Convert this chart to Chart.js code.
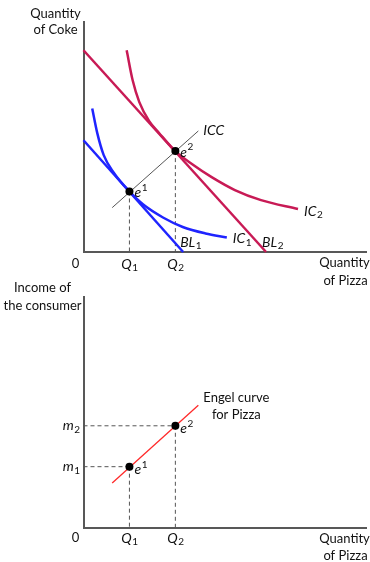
<!DOCTYPE html>
<html>
<head>
<meta charset="utf-8">
<script src="https://cdn.jsdelivr.net/npm/chart.js@4.4.0/dist/chart.umd.min.js"></script>
<style>
  body { margin: 0; background: #fff; }
  #wrap { position: relative; width: 370px; height: 562px; overflow: hidden; }
  canvas { position: absolute; left: 0; }
  #topChart { top: 0; }
  #bottomChart { top: 270px; }
</style>
</head>
<body>
<div id="wrap">
  <canvas id="topChart" width="370" height="300"></canvas>
  <canvas id="bottomChart" width="370" height="292"></canvas>
</div>
<script>
// equilibria e1, e2
const eqPizza = [2, 4];
const eqCoke = [3, 5];
const eqIncome = [3, 5];
const qLabels = ['1', '2'];
const mLabels = ['1', '2'];

// budget lines
const bl1Pizza = [0, 4.34];
const bl1Coke = [5.54, 0];
const bl2Pizza = [0, 7.95];
const bl2Coke = [10.0, 0];

// indifference curves
const ic1Pizza = [0.38, 0.60, 0.88, 1.31, 2.0, 2.60, 3.46, 4.32, 5.31, 6.24];
const ic1Coke = [7.11, 5.89, 4.80, 3.94, 3.0, 2.35, 1.71, 1.24, 0.92, 0.72];
const ic2Pizza = [1.88, 2.14, 2.43, 2.86, 3.29, 4.0, 4.72, 5.58, 6.59, 7.73, 9.34];
const ic2Coke = [10.0, 8.51, 7.43, 6.49, 5.90, 5.0, 4.36, 3.71, 3.07, 2.57, 2.13];

// income consumption curve and Engel curve
const iccPizza = [1.25, 5.0];
const iccCoke = [2.2, 6.0];
const engelPizza = [1.25, 5.0];
const engelIncome = [2.2, 6.0];

const BLUE = '#1f24ff';
const CRIMSON = '#c81a55';
const AXIS = '#585858';
const TXT = '#111';

function pts(xs, ys) {
  return xs.map((x, i) => ({ x: x, y: ys[i] }));
}

function lineSet(data, color, width, extra) {
  return Object.assign({
    type: 'scatter', data: data, showLine: true, borderColor: color, borderWidth: width,
    pointRadius: 0, fill: false, clip: false
  }, extra || {});
}

function mathLabel(ctx, x, y, base, idx, sup, align) {
  ctx.font = 'italic 14px Lato';
  const w1 = ctx.measureText(base).width;
  ctx.font = '10px Lato';
  const w2 = ctx.measureText(idx).width;
  let x0 = x;
  if (align === 'center') x0 = x - (w1 + w2) / 2;
  if (align === 'right') x0 = x - w1 - w2;
  ctx.fillStyle = TXT;
  ctx.textAlign = 'left';
  ctx.textBaseline = 'middle';
  ctx.font = 'italic 14px Lato';
  ctx.fillText(base, x0, y);
  ctx.font = '10px Lato';
  ctx.fillText(idx, x0 + w1 + 0.5, y + (sup ? -5 : 4));
}

function plainText(ctx, txt, x, y, align) {
  ctx.font = '13px Lato';
  ctx.fillStyle = TXT;
  ctx.textAlign = align;
  ctx.textBaseline = 'middle';
  ctx.fillText(txt, x, y);
}

function axisOpts(max) {
  return {
    type: 'linear', min: 0, max: max,
    grid: { display: false, drawTicks: false },
    ticks: { display: false },
    border: { display: true, color: AXIS, width: 2 }
  };
}

const dashed = { borderDash: [4, 3] };

// ---------- top: indifference map ----------
const topDatasets = [
  { type: 'scatter', data: pts(eqPizza, eqCoke), pointRadius: 4, pointBackgroundColor: '#000', pointBorderWidth: 0, clip: false },
  lineSet(pts(ic1Pizza, ic1Coke), BLUE, 2.5, { cubicInterpolationMode: 'monotone' }),
  lineSet(pts(ic2Pizza, ic2Coke), CRIMSON, 2.5, { cubicInterpolationMode: 'monotone' }),
  lineSet(pts(bl1Pizza, bl1Coke), BLUE, 2.5),
  lineSet(pts(bl2Pizza, bl2Coke), CRIMSON, 2.5),
  lineSet(pts(iccPizza, iccCoke), '#555', 1),
];
eqPizza.forEach((q, i) => {
  topDatasets.push(lineSet([{ x: q, y: eqCoke[i] }, { x: q, y: 0 }], '#555', 1, dashed));
});

const topLabels = {
  id: 'topLabels',
  afterDraw(chart) {
    const ctx = chart.ctx;
    const xs = chart.scales.x, ys = chart.scales.y;
    const a = chart.chartArea;
    const px = v => xs.getPixelForValue(v), py = v => ys.getPixelForValue(v);
    ctx.save();
    plainText(ctx, 'Quantity', 55.5, 14, 'center');
    plainText(ctx, 'of Coke', 55.5, 30, 'center');
    plainText(ctx, '0', a.left - 8, a.bottom + 12, 'center');
    plainText(ctx, 'Quantity', 344.5, a.bottom + 11, 'center');
    plainText(ctx, 'of Pizza', 345.5, a.bottom + 29, 'center');
    eqPizza.forEach((q, i) => {
      mathLabel(ctx, px(q), a.bottom + 12, 'Q', qLabels[i], false, 'center');
      mathLabel(ctx, px(q) + 5, py(eqCoke[i]) + 1, 'e', qLabels[i], true, 'left');
    });
    const n1 = ic1Pizza.length - 1, n2 = ic2Pizza.length - 1;
    mathLabel(ctx, px(ic1Pizza[n1]) + 6, py(ic1Coke[n1]) + 1, 'IC', '1', false, 'left');
    mathLabel(ctx, px(ic2Pizza[n2]) + 6, py(ic2Coke[n2]) + 2, 'IC', '2', false, 'left');
    mathLabel(ctx, px(bl1Pizza[1]) - 3, py(0) - 10, 'BL', '1', false, 'left');
    mathLabel(ctx, px(bl2Pizza[1]) - 4, py(0) - 10, 'BL', '2', false, 'left');
    mathLabel(ctx, px(iccPizza[1]) + 5, py(iccCoke[1]), 'ICC', '', false, 'left');
    ctx.restore();
  }
};

new Chart(document.getElementById('topChart'), {
  type: 'scatter',
  data: { datasets: topDatasets },
  options: {
    responsive: false,
    animation: false,
    layout: { padding: { left: 83.5, top: 22, right: 0, bottom: 48 } },
    plugins: { legend: { display: false }, tooltip: { enabled: false } },
    scales: { x: axisOpts(12.3), y: axisOpts(11.4) }
  },
  plugins: [topLabels]
});

// ---------- bottom: Engel curve ----------
const botDatasets = [
  { type: 'scatter', data: pts(eqPizza, eqIncome), pointRadius: 4, pointBackgroundColor: '#000', pointBorderWidth: 0, clip: false },
  lineSet(pts(engelPizza, engelIncome), '#ff2a2a', 1.3),
];
eqPizza.forEach((q, i) => {
  botDatasets.push(lineSet([{ x: q, y: eqIncome[i] }, { x: q, y: 0 }], '#555', 1, dashed));
  botDatasets.push(lineSet([{ x: 0, y: eqIncome[i] }, { x: q, y: eqIncome[i] }], '#555', 1, dashed));
});

const botLabels = {
  id: 'botLabels',
  afterDraw(chart) {
    const ctx = chart.ctx;
    const xs = chart.scales.x, ys = chart.scales.y;
    const a = chart.chartArea;
    const px = v => xs.getPixelForValue(v), py = v => ys.getPixelForValue(v);
    ctx.save();
    plainText(ctx, 'Income of', 42.5, 18, 'center');
    plainText(ctx, 'the consumer', 42.5, 36, 'center');
    plainText(ctx, '0', a.left - 8, a.bottom + 10, 'center');
    plainText(ctx, 'Quantity', 344.5, a.bottom + 11, 'center');
    plainText(ctx, 'of Pizza', 345.5, a.bottom + 28, 'center');
    eqPizza.forEach((q, i) => {
      mathLabel(ctx, px(q), a.bottom + 10, 'Q', qLabels[i], false, 'center');
      mathLabel(ctx, px(q) + 5, py(eqIncome[i]) + 3, 'e', qLabels[i], true, 'left');
      mathLabel(ctx, a.left - 4, py(eqIncome[i]), 'm', mLabels[i], false, 'right');
    });
    const n = engelPizza.length - 1;
    plainText(ctx, 'Engel curve', px(engelPizza[n]) + 38, py(engelIncome[n]) - 8, 'center');
    plainText(ctx, 'for Pizza', px(engelPizza[n]) + 38, py(engelIncome[n]) + 9, 'center');
    ctx.restore();
  }
};

new Chart(document.getElementById('bottomChart'), {
  type: 'scatter',
  data: { datasets: botDatasets },
  options: {
    responsive: false,
    animation: false,
    layout: { padding: { left: 83.5, top: 27, right: 0, bottom: 34 } },
    plugins: { legend: { display: false }, tooltip: { enabled: false } },
    scales: { x: axisOpts(12.3), y: axisOpts(11.3) }
  },
  plugins: [botLabels]
});
</script>
</body>
</html>
